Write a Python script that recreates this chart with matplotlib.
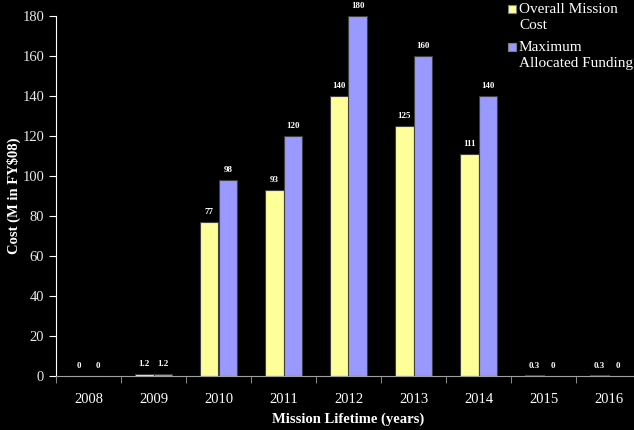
import numpy as np
import matplotlib
matplotlib.use("Agg")
import matplotlib.pyplot as plt
from matplotlib.patches import Rectangle

years = ["2008", "2009", "2010", "2011", "2012", "2013", "2014", "2015", "2016"]
mission_cost = [0, 1.2, 77, 93, 140, 125, 111, 0.3, 0.3]
max_funding = [0, 1.2, 98, 120, 180, 160, 140, 0, 0]
cost_labels = ["0", "1.2", "77", "93", "140", "125", "111", "0.3", "0.3"]
funding_labels = ["0", "1.2", "98", "120", "180", "160", "140", "0", "0"]
series_names = ["Overall Mission\nCost", "Maximum\nAllocated Funding"]
series_colors = ["#FFFF99", "#9999FF"]

plt.rcParams["font.family"] = ["Liberation Serif", "DejaVu Serif"]

W, H = 634, 430
fig = plt.figure(figsize=(W / 100, H / 100), dpi=100, facecolor="black")
ax = fig.add_axes([56 / W, 54 / H, 585 / W, 360 / H], facecolor="black")

x = np.arange(len(years))
w = 0.29
b1 = ax.bar(x - w / 2, mission_cost, w, color=series_colors[0], edgecolor="#404040",
            linewidth=0.8)
b2 = ax.bar(x + w / 2, max_funding, w, color=series_colors[1], edgecolor="#404040",
            linewidth=0.8)

for bars, labels in [(b1, cost_labels), (b2, funding_labels)]:
    for rect, lab in zip(bars, labels):
        ax.annotate(lab, (rect.get_x() + rect.get_width() / 2, rect.get_height()),
                    xytext=(0, 4), textcoords="offset points", ha="center", va="bottom",
                    color="white", fontsize=6.5, fontweight="bold")

ax.set_xlim(-0.5, len(years) - 0.5)
ax.set_ylim(0, 180)
ax.set_yticks(range(0, 181, 20))
ax.set_xticks(x)
ax.set_xticklabels(years)
ax.set_xticks(np.arange(-0.5, len(years), 1), minor=True)
ax.tick_params(axis="x", which="major", length=0, colors="white", labelsize=10.5, pad=12)
ax.tick_params(axis="x", which="minor", length=5, color="#A0A0A0", direction="out")
ax.tick_params(axis="y", length=5, color="white", labelcolor="#E8E8E8", labelsize=10.5)

for s in ["top", "right"]:
    ax.spines[s].set_visible(False)
ax.spines["left"].set_color("white")
ax.spines["bottom"].set_color("#A0A0A0")

ax.set_xlabel("Mission Lifetime (years)", color="white", fontsize=10.5,
              fontweight="bold", labelpad=5)
ax.set_ylabel("Cost (M in FY$08)", color="white", fontsize=10.5, fontweight="bold",
              labelpad=1)

# legend drawn by hand: marker aligned with the first line of each entry
for i, (name, col) in enumerate(zip(series_names, series_colors)):
    top = 5 + i * 38
    fig.patches.append(Rectangle((508 / W, 1 - (top + 8) / H), 8 / W, 8 / H,
                                 transform=fig.transFigure, facecolor=col,
                                 edgecolor="#808080", linewidth=0.8))
    fig.text(519 / W, 1 - (top - 2) / H, name, color="white", fontsize=11,
             ha="left", va="top", linespacing=1.3)

fig.savefig("out.png", dpi=100, facecolor="black")
